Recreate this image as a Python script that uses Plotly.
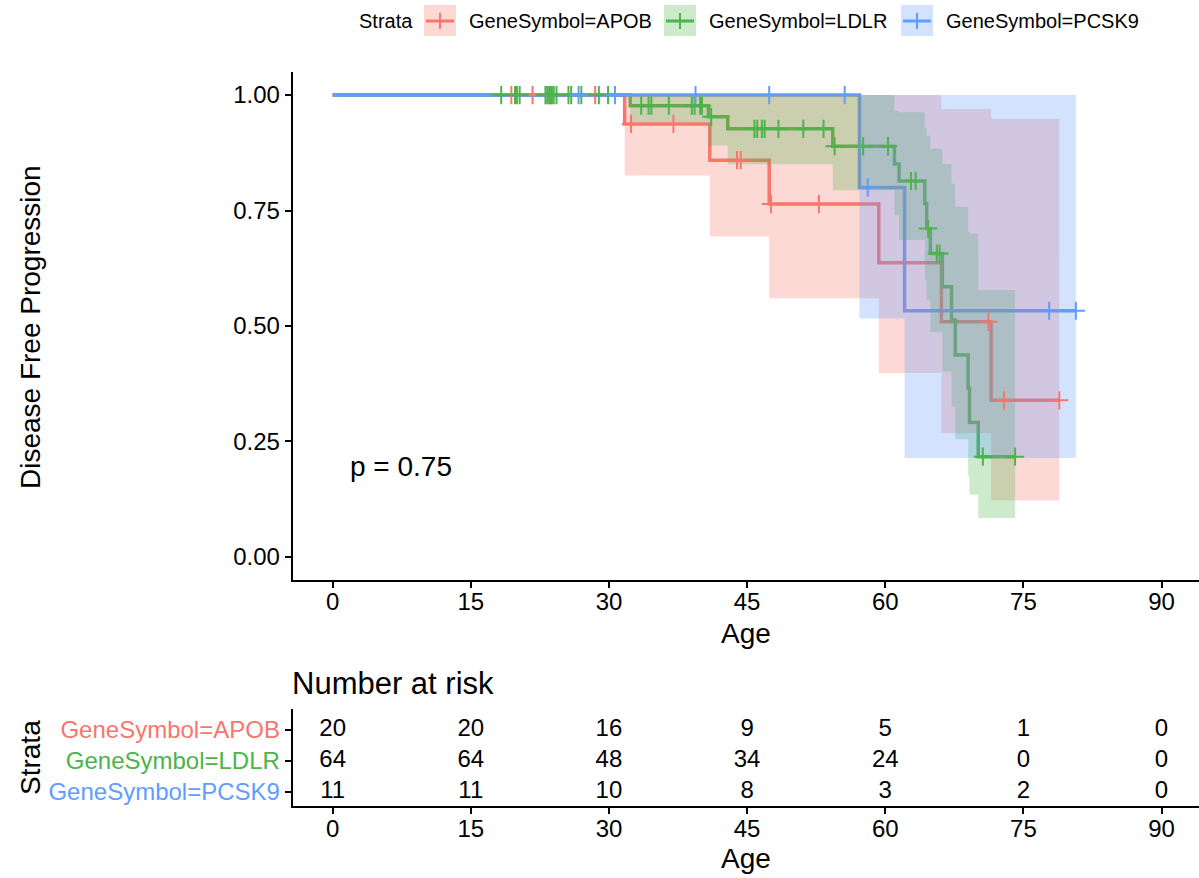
import plotly.graph_objects as go
import numpy as np

# ---------------- data ----------------
groups = ["GeneSymbol=APOB", "GeneSymbol=LDLR", "GeneSymbol=PCSK9"]

apob_time = [0, 31.7, 40.95, 47.4, 59.3, 66.1, 71.5]
apob_surv = [1.0, 0.9375, 0.859, 0.764, 0.637, 0.509, 0.339]
apob_upper = [1.0, 1.0, 1.0, 1.0, 1.0, 0.970, 0.949]
apob_lower = [1.0, 0.826, 0.694, 0.560, 0.398, 0.268, 0.122]
apob_end = 78.9
apob_censor = [19.4, 21.7, 23.6, 28.5, 32.4, 37.0, 43.9, 44.3, 47.6, 52.8, 71.2, 72.9, 78.9]

ldlr_time = [0, 32.3, 40.8, 42.9, 54.3, 61.0, 61.5, 64.3, 64.5, 64.9, 66.2, 67.2, 67.6, 69.0, 69.15, 70.1]
ldlr_surv = [1.0, 0.977, 0.953, 0.927, 0.889, 0.851, 0.814, 0.765, 0.711, 0.657, 0.585, 0.513, 0.437, 0.365, 0.291, 0.217]
ldlr_upper = [1.0, 1.0, 1.0, 1.0, 1.0, 0.966, 0.963, 0.930, 0.912, 0.884, 0.851, 0.808, 0.758, 0.704, 0.700, 0.578]
ldlr_lower = [1.0, 0.942, 0.891, 0.850, 0.794, 0.740, 0.686, 0.600, 0.556, 0.487, 0.401, 0.325, 0.255, 0.175, 0.135, 0.084]
ldlr_end = 74.1
ldlr_censor = [18.3, 19.8, 20.0, 20.3, 23.1, 23.3, 23.5, 23.6, 23.8, 24.0, 24.3, 25.6, 25.9,
               27.0, 28.9, 29.9, 33.5, 34.3, 34.6, 36.5, 39.0, 39.3, 39.9, 40.1, 41.1, 45.8,
               46.1, 46.6, 46.9, 48.4, 51.1, 53.3, 54.5, 57.6, 60.3, 62.8, 63.3, 64.65, 65.6,
               65.9, 70.6, 74.1]

pcsk9_time = [0, 57.2, 62.1]
pcsk9_surv = [1.0, 0.800, 0.533]
pcsk9_upper = [1.0, 1.0, 1.0]
pcsk9_lower = [1.0, 0.516, 0.214]
pcsk9_end = 80.7
pcsk9_censor = [26.7, 30.65, 39.4, 47.4, 55.6, 58.1, 77.8, 80.7]

risk_times = [0, 15, 30, 45, 60, 75, 90]
risk_apob = [20, 20, 16, 9, 5, 1, 0]
risk_ldlr = [64, 64, 48, 34, 24, 0, 0]
risk_pcsk9 = [11, 11, 10, 8, 3, 2, 0]

x_ticks = [0, 15, 30, 45, 60, 75, 90]
y_ticks = [0, 0.25, 0.5, 0.75, 1.0]
y_tick_labels = ["0.00", "0.25", "0.50", "0.75", "1.00"]
p_text = "p = 0.75"

colors = ["#F8766D", "#4DB34A", "#619CFF"]

# ---------------- layout helpers ----------------
W, H = 1199, 878
FONT = "Liberation Sans, Arial, Helvetica, sans-serif"


def pxx(x):
    return x / W


def pyy(y):
    return 1 - y / H


def rgba(hexc, a):
    hexc = hexc.lstrip("#")
    r, g, b = int(hexc[0:2], 16), int(hexc[2:4], 16), int(hexc[4:6], 16)
    return f"rgba({r},{g},{b},{a})"


def band_polygon(t, up, lo, end):
    tt = list(t) + [end]
    xs, ys = [], []
    for i in range(1, len(t)):
        xs += [tt[i], tt[i + 1]]
        ys += [up[i], up[i]]
    for i in range(len(t) - 1, 0, -1):
        xs += [tt[i + 1], tt[i]]
        ys += [lo[i], lo[i]]
    return xs, ys


def surv_at(t, s, x):
    idx = np.searchsorted(np.array(t), np.array(x), side="right") - 1
    return list(np.array(s)[idx])


series = [
    (apob_time, apob_surv, apob_upper, apob_lower, apob_end, apob_censor),
    (ldlr_time, ldlr_surv, ldlr_upper, ldlr_lower, ldlr_end, ldlr_censor),
    (pcsk9_time, pcsk9_surv, pcsk9_upper, pcsk9_lower, pcsk9_end, pcsk9_censor),
]

fig = go.Figure()

# survival step lines
for (t, s, up, lo, end, cens), col, name in zip(series, colors, groups):
    fig.add_trace(go.Scatter(
        x=list(t) + [end], y=list(s) + [s[-1]], mode="lines",
        line=dict(color=col, width=3.5, shape="hv"), showlegend=False,
        name=name, xaxis="x", yaxis="y", hoverinfo="skip"))

# confidence bands (drawn over the lines, as in the reference)
for (t, s, up, lo, end, cens), col, name in zip(series, colors, groups):
    bx, by = band_polygon(t, up, lo, end)
    fig.add_trace(go.Scatter(
        x=bx, y=by, mode="lines", fill="toself", fillcolor=rgba(col, 0.28),
        line=dict(width=0, color=rgba(col, 0)), showlegend=False,
        xaxis="x", yaxis="y", hoverinfo="skip"))

# censor marks
for (t, s, up, lo, end, cens), col, name in zip(series, colors, groups):
    fig.add_trace(go.Scatter(
        x=cens, y=surv_at(t, s, cens), mode="markers",
        marker=dict(symbol="cross-thin-open", size=13, color=col,
                    line=dict(color=col, width=2)),
        showlegend=False, xaxis="x", yaxis="y", hoverinfo="skip"))

# risk table
for vals, yv in zip([risk_apob, risk_ldlr, risk_pcsk9], [3, 2, 1]):
    fig.add_trace(go.Scatter(
        x=risk_times, y=[yv] * len(risk_times), mode="text",
        text=[str(v) for v in vals], textfont=dict(size=24, color="black", family=FONT),
        textposition="middle center", showlegend=False, xaxis="x2", yaxis="y2",
        hoverinfo="skip"))

x_left = (292.7 - 332.7) / 9.209
x_right = (1199 - 332.7) / 9.209

axis_common = dict(showgrid=False, zeroline=False, showline=True, linecolor="black",
                   linewidth=2, ticks="outside", ticklen=6, tickwidth=1.5,
                   tickcolor="black", tickfont=dict(size=24, color="black", family=FONT))

fig.update_layout(
    width=W, height=H, margin=dict(l=0, r=0, t=0, b=0),
    paper_bgcolor="white", plot_bgcolor="white", showlegend=False,
    font=dict(family=FONT, color="black"),
    xaxis=dict(domain=[pxx(292.7), 1], range=[x_left, x_right], tickvals=x_ticks,
               anchor="y", ticklabelstandoff=-7, **axis_common),
    yaxis=dict(domain=[pyy(580), pyy(72)], range=[-0.05, 1.05], tickvals=y_ticks,
               ticktext=y_tick_labels, anchor="x", **axis_common),
    xaxis2=dict(domain=[pxx(292.7), 1], range=[x_left, x_right], tickvals=x_ticks,
                anchor="y2", ticklabelstandoff=-6, **axis_common),
    yaxis2=dict(domain=[pyy(806), pyy(709)], range=[0.55, 3.68], tickvals=[3, 2, 1],
                ticktext=[f"<span style='color:{c}'>{g}</span>" for c, g in zip(colors, groups)],
                anchor="x2", **axis_common),
)

ann = []
# axis titles
ann.append(dict(text="Age", x=pxx(746), y=pyy(633), xref="paper", yref="paper",
                showarrow=False, font=dict(size=28, color="black"), xanchor="center", yanchor="middle"))
ann.append(dict(text="Disease Free Progression", x=pxx(30), y=pyy(327), xref="paper", yref="paper",
                showarrow=False, textangle=-90, font=dict(size=28, color="black"),
                xanchor="center", yanchor="middle"))
ann.append(dict(text="Number at risk", x=pxx(290), y=pyy(683), xref="paper", yref="paper",
                showarrow=False, font=dict(size=31, color="black"), xanchor="left", yanchor="middle"))
ann.append(dict(text="Strata", x=pxx(30), y=pyy(758), xref="paper", yref="paper",
                showarrow=False, textangle=-90, font=dict(size=28, color="black"),
                xanchor="center", yanchor="middle"))
ann.append(dict(text="Age", x=pxx(746), y=pyy(858), xref="paper", yref="paper",
                showarrow=False, font=dict(size=28, color="black"), xanchor="center", yanchor="middle"))
# p-value
ann.append(dict(text=p_text, x=1.66, y=0.195, xref="x", yref="y", showarrow=False,
                font=dict(size=28, color="black"), xanchor="left", yanchor="middle"))

# manual legend
shapes = []
ann.append(dict(text="Strata", x=pxx(357), y=pyy(21), xref="paper", yref="paper", showarrow=False,
                font=dict(size=20, color="black"), xanchor="left", yanchor="middle"))
key_x = [424, 664, 901]
text_x = [467, 707, 944]
for kx, tx, col, name in zip(key_x, text_x, colors, groups):
    shapes.append(dict(type="rect", xref="paper", yref="paper", x0=pxx(kx), x1=pxx(kx + 32),
                       y0=pyy(36), y1=pyy(5), fillcolor=rgba(col, 0.28), line=dict(width=0)))
    shapes.append(dict(type="line", xref="paper", yref="paper", x0=pxx(kx + 2), x1=pxx(kx + 30),
                       y0=pyy(21), y1=pyy(21), line=dict(color=col, width=3)))
    shapes.append(dict(type="line", xref="paper", yref="paper", x0=pxx(kx + 16), x1=pxx(kx + 16),
                       y0=pyy(13), y1=pyy(29), line=dict(color=col, width=2)))
    ann.append(dict(text=name, x=pxx(tx), y=pyy(21), xref="paper", yref="paper", showarrow=False,
                    font=dict(size=20, color="black"), xanchor="left", yanchor="middle"))

fig.update_layout(annotations=ann, shapes=shapes)
fig.write_html("out.html", config={"displayModeBar": False},
               post_script="document.body.style.margin='0px';document.body.style.overflow='hidden';")
